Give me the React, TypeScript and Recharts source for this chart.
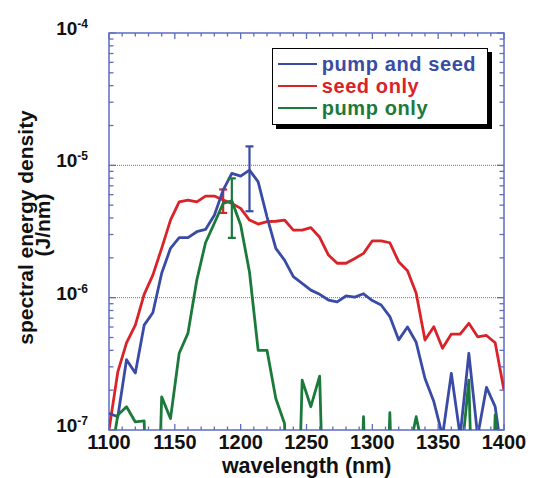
import React from 'react';
import { LineChart, Line, XAxis, YAxis, ReferenceLine, ReferenceArea, ErrorBar, Legend } from 'recharts';

// ---------- data ----------
const wavelengths = [
  1100, 1106.7, 1113.3, 1120, 1126.7, 1133.3, 1140, 1146.7, 1153.3, 1160,
  1166.7, 1173.3, 1180, 1186.7, 1193.3, 1200, 1206.7, 1213.3, 1220, 1226.7,
  1233.3, 1240, 1246.7, 1253.3, 1260, 1266.7, 1273.3, 1280, 1286.7, 1293.3,
  1300, 1306.7, 1313.3, 1320, 1326.7, 1333.3, 1340, 1346.7, 1353.3, 1360,
  1366.7, 1373.3, 1380, 1386.7, 1393.3, 1400,
];

const pumpAndSeed = [
  1.34e-7, 1.26e-7, 3.4e-7, 2.7e-7, 6.2e-7, 7.7e-7, 1.53e-6, 2.36e-6, 2.84e-6, 2.84e-6,
  3.15e-6, 3.28e-6, 4.2e-6, 6.5e-6, 8.7e-6, 8.3e-6, 9.2e-6, 7.5e-6, 4.08e-6, 2.36e-6,
  1.92e-6, 1.44e-6, 1.28e-6, 1.14e-6, 1.06e-6, 9.6e-7, 9.3e-7, 1.03e-6, 1.01e-6, 1.07e-6,
  9.5e-7, 8.8e-7, 7.2e-7, 4.8e-7, 6.0e-7, 4.6e-7, 2.45e-7, 1.64e-7, 9e-8, 2.68e-7,
  9e-8, 3.8e-7, 9e-8, 2.1e-7, 1.5e-7, 5e-8,
];

const seedOnly = [
  1.0e-7, 2.75e-7, 4.56e-7, 6.2e-7, 1.06e-6, 1.48e-6, 2.36e-6, 3.86e-6, 5.3e-6, 5.47e-6,
  5.3e-6, 5.86e-6, 5.86e-6, 5.47e-6, 5.16e-6, 4.73e-6, 3.86e-6, 3.6e-6, 3.75e-6, 3.78e-6,
  3.86e-6, 3.24e-6, 3.24e-6, 3.38e-6, 2.86e-6, 2.1e-6, 1.82e-6, 1.82e-6, 1.98e-6, 2.16e-6,
  2.69e-6, 2.69e-6, 2.6e-6, 1.87e-6, 1.6e-6, 1.08e-6, 4.78e-7, 6.03e-7, 4.14e-7, 5.31e-7,
  5.31e-7, 6.4e-7, 5.06e-7, 5.18e-7, 4.56e-7, 2.0e-7,
];

const pumpOnly = [
  5e-8, 1.3e-7, 1.5e-7, 1.15e-7, 1.17e-7, 1e-9, 1.78e-7, 1.22e-7, 3.8e-7, 5.4e-7,
  1.36e-6, 2.6e-6, 3.65e-6, 5.16e-6, 5.4e-6, 3.54e-6, 1.56e-6, 4.0e-7, 4.0e-7, 1.73e-7,
  1.12e-7, 1e-9, 2.38e-7, 1.5e-7, 2.55e-7, 1e-9, 1e-9, 1e-9, 1e-9, 1.26e-7,
  1e-9, 1e-9, 1.35e-7, 1e-9, 6e-8, 1.26e-7, 6e-8, 1e-9, 1e-9, 1e-9,
  5e-8, 2.38e-7, 1e-9, 1e-9, 1.3e-7, 1e-9,
];

// error bars: [index into wavelengths, half-width]
const pumpAndSeedError = [16, 4.7e-6];
const seedOnlyError = [13, 1.1e-6];
const pumpOnlyError = [14, 2.57e-6];

const seriesNames = ['pump and seed', 'seed only', 'pump only'];

const xTicks = [
  1100, 1110, 1120, 1130, 1140, 1150, 1160, 1170, 1180, 1190, 1200, 1210, 1220, 1230, 1240, 1250,
  1260, 1270, 1280, 1290, 1300, 1310, 1320, 1330, 1340, 1350, 1360, 1370, 1380, 1390, 1400,
];
const xLabelTicks = [1100, 1150, 1200, 1250, 1300, 1350, 1400];

const yTicks = [
  1e-7, 2e-7, 3e-7, 4e-7, 5e-7, 6e-7, 7e-7, 8e-7, 9e-7,
  1e-6, 2e-6, 3e-6, 4e-6, 5e-6, 6e-6, 7e-6, 8e-6, 9e-6,
  1e-5, 2e-5, 3e-5, 4e-5, 5e-5, 6e-5, 7e-5, 8e-5, 9e-5,
  1e-4,
];
const yLabelTicks = [1e-7, 1e-6, 1e-5, 1e-4];
const yLabelExponents = ['-7', '-6', '-5', '-4'];
const yGridLines = [1e-6, 1e-5];

// ---------- styles ----------
const BLUE = '#3a4ba6';
const RED = '#d92328';
const GREEN = '#1b7a3b';
const FRAME = '#5d6cc4';
const GRID = '#5a6ce0';
const FONT = "'Liberation Sans', Arial, Helvetica, sans-serif";
const colors = [BLUE, RED, GREEN];

const W = 528;
const H = 470;
const PW = 395;
const PH = 397;

const rows = wavelengths.map((wl, i) => ({
  wl,
  both: pumpAndSeed[i],
  seed: seedOnly[i],
  pump: pumpOnly[i],
  bothErr: i === pumpAndSeedError[0] ? pumpAndSeedError[1] : null,
  seedErr: i === seedOnlyError[0] ? seedOnlyError[1] : null,
  pumpErr: i === pumpOnlyError[0] ? pumpOnlyError[1] : null,
}));

const XTick = (props: any) => {
  const { x, y, payload } = props;
  const v = payload.value;
  const major = xLabelTicks.includes(v);
  const len = major ? 6 : 3.5;
  return (
    <g>
      <line x1={x} x2={x} y1={y} y2={y - len} stroke={FRAME} strokeWidth={1.3} />
      <line x1={x} x2={x} y1={y - PH} y2={y - PH + len} stroke={FRAME} strokeWidth={1.3} />
      {major && (
        <text x={x} y={y + 19} textAnchor="middle" fontSize={20} fontWeight="bold" fill="#111" fontFamily={FONT}>
          {v}
        </text>
      )}
    </g>
  );
};

const YTick = (props: any) => {
  const { x, y, payload } = props;
  const v = payload.value;
  const idx = yLabelTicks.findIndex((t) => Math.abs(t - v) / t < 1e-6);
  const major = idx >= 0;
  const len = major ? 7 : 4.5;
  return (
    <g>
      <line x1={x} x2={x + len} y1={y} y2={y} stroke={FRAME} strokeWidth={1.3} />
      <line x1={x + PW} x2={x + PW - len} y1={y} y2={y} stroke={FRAME} strokeWidth={1.3} />
      {major && (
        <text x={x - 21} y={y + 2} textAnchor="end" fontSize={19} fontWeight="bold" fill="#111" fontFamily={FONT}>
          10
          <tspan dy={-7} fontSize={12}>{yLabelExponents[idx]}</tspan>
        </text>
      )}
    </g>
  );
};

const LegendBox = () => (
  <div
    style={{
      boxSizing: 'border-box',
      width: '100%',
      height: '100%',
      border: '1.5px solid #000',
      boxShadow: '4px 4px 0 #000',
      background: '#fff',
      padding: '4px 0 0 5px',
      fontFamily: FONT,
      fontWeight: 'bold',
      fontSize: 20,
      letterSpacing: 0.6,
      whiteSpace: 'nowrap',
    }}
  >
    {seriesNames.map((name, i) => (
      <div key={name} style={{ display: 'flex', alignItems: 'center', height: 22, lineHeight: '22px' }}>
        <span style={{ display: 'inline-block', width: 39, height: 0, borderTop: `2px solid ${colors[i]}`, marginRight: 5 }} />
        <span style={{ color: colors[i] }}>{name}</span>
      </div>
    ))}
  </div>
);

export default function App() {
  return (
    <div style={{ width: W, height: H }}>
      <LineChart width={W} height={H} data={rows} margin={{ top: 25, right: 32, left: 41, bottom: 18 }}>
        <ReferenceArea x1={1100} x2={1400} y1={1e-7} y2={1e-4} fill="none" stroke={FRAME} strokeWidth={1.5} ifOverflow="visible" />
        {yGridLines.map((v) => (
          <ReferenceLine key={v} y={v} stroke={GRID} strokeWidth={1} strokeDasharray="1 1" />
        ))}
        <XAxis
          type="number"
          dataKey="wl"
          domain={[1100, 1400]}
          ticks={xTicks}
          interval={0}
          tick={XTick}
          tickSize={0}
          tickMargin={0}
          tickLine={false}
          axisLine={false}
          height={30}
          allowDataOverflow
          label={{
            content: () => (
              <text x={298.7} y={465} textAnchor="middle" fontSize={21.5} fontWeight="bold" fill="#111" fontFamily={FONT}>
                wavelength (nm)
              </text>
            ),
          }}
        />
        <YAxis
          scale="log"
          domain={[1e-7, 1e-4]}
          ticks={yTicks}
          interval={0}
          tick={YTick}
          tickSize={0}
          tickMargin={0}
          tickLine={false}
          axisLine={false}
          width={60}
          allowDataOverflow
          label={{
            content: () => (
              <g fontSize={21} fontWeight="bold" fill="#111" fontFamily={FONT}>
                <text x={25.3} y={219.5} textAnchor="middle" transform="rotate(-90, 25.3, 219.5)">
                  spectral energy density
                </text>
                <text x={41.5} y={217} textAnchor="middle" transform="rotate(-90, 41.5, 217)">
                  (J/nm)
                </text>
              </g>
            ),
          }}
        />
        <Legend
          layout="vertical"
          align="center"
          verticalAlign="middle"
          wrapperStyle={{ left: 263.7, top: 40.3, width: 216.6, height: 76.7 }}
          content={() => <LegendBox />}
        />
        <Line dataKey="seed" name="seed only" stroke={RED} strokeWidth={2.8} dot={false} isAnimationActive={false} strokeLinejoin="round">
          <ErrorBar dataKey="seedErr" width={4} stroke={RED} strokeWidth={2.2} direction="y" />
        </Line>
        <Line dataKey="both" name="pump and seed" stroke={BLUE} strokeWidth={2.8} dot={false} isAnimationActive={false} strokeLinejoin="round">
          <ErrorBar dataKey="bothErr" width={4} stroke={BLUE} strokeWidth={2.2} direction="y" />
        </Line>
        <Line dataKey="pump" name="pump only" stroke={GREEN} strokeWidth={2.8} dot={false} isAnimationActive={false} strokeLinejoin="round">
          <ErrorBar dataKey="pumpErr" width={4} stroke={GREEN} strokeWidth={2.2} direction="y" />
        </Line>
      </LineChart>
    </div>
  );
}
